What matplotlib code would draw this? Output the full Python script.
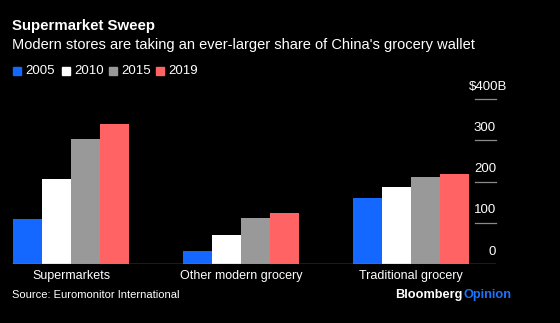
import matplotlib
matplotlib.use("Agg")
import matplotlib.pyplot as plt
import matplotlib.transforms as mtransforms
import numpy as np

plt.rcParams['font.family'] = ['Liberation Sans', 'DejaVu Sans']

categories = ["Supermarkets", "Other modern grocery", "Traditional grocery"]
years = ["2005", "2010", "2015", "2019"]
v2005 = [108, 31, 160]
v2010 = [206, 71, 186]
v2015 = [302, 111, 212]
v2019 = [340, 123, 217]
series = [v2005, v2010, v2015, v2019]
colors = ["#1468ff", "#ffffff", "#999999", "#ff6363"]
yticks = [0, 100, 200, 300, 400]
ytick_labels = ["0", "100", "200", "300", "$400B"]

W, H = 560, 323
fig = plt.figure(figsize=(W / 100, H / 100), dpi=100, facecolor="black")
ax = fig.add_axes([12 / W, (H - 264) / H, 484 / W, 165 / H])
ax.set_facecolor("black")

x = np.arange(len(categories))
bw = 29 / 170
for i, vals in enumerate(series):
    ax.bar(x + (i - 1.5) * bw, vals, bw, color=colors[i], linewidth=0, zorder=2)

ax.set_xlim(-59 / 170, 425 / 170)
ax.set_ylim(0, 400)
for s in ax.spines.values():
    s.set_visible(False)
ax.set_xticks([])
ax.set_yticks([])
ax.axhline(0, color="#8a8a8a", lw=1, zorder=3)

# short gridlines on the right + labels above them
trans = mtransforms.blended_transform_factory(ax.transAxes, ax.transData)
for t, lab in zip(yticks, ytick_labels):
    if t > 0:
        ax.plot([463 / 484, 1.0], [t, t], color="#8a8a8a", lw=0.9, transform=trans, clip_on=False)
    xr = 1.0 if t < 400 else 1.0 + 11 / 484
    ax.text(xr, t + 30, lab, transform=trans, ha="right", va="center",
            color="white", fontsize=9.5, clip_on=False)

for xi, c in zip(x, categories):
    fig.text((12 + (xi * 170 + 59)) / W, 1 - 276 / H, c, ha="center", va="center",
             color="white", fontsize=9)

fig.text(12 / W, 1 - 26 / H, "Supermarket Sweep", color="white", fontsize=10.8,
         fontweight="bold", va="center", ha="left")
fig.text(12 / W, 1 - 45 / H,
         "Modern stores are taking an ever-larger share of China's grocery wallet",
         color="white", fontsize=10.5, va="center", ha="left")

# legend
lx = [13, 62, 109, 156]
for xx, yr, col in zip(lx, years, colors):
    fig.patches.append(plt.Rectangle((xx / W, 1 - 75 / H), 8 / W, 8 / H,
                                     transform=fig.transFigure, color=col))
    fig.text((xx + 12) / W, 1 - 71 / H, yr, color="white", fontsize=9.5,
             va="center", ha="left")

fig.text(12 / W, 1 - 295 / H, "Source: Euromonitor International", color="white",
         fontsize=8, va="center", ha="left")
op = fig.text(511 / W, 1 - 295 / H, "Opinion", color="#1a73ff", fontsize=9.2,
              fontweight="bold", va="center", ha="right")
r = fig.canvas.get_renderer()
bb = op.get_window_extent(r)
fig.text(bb.x0 / W - 0.5 / W, 1 - 295 / H, "Bloomberg", color="white", fontsize=9.2,
         fontweight="bold", va="center", ha="right")

fig.savefig("out.png", dpi=100, facecolor="black")
